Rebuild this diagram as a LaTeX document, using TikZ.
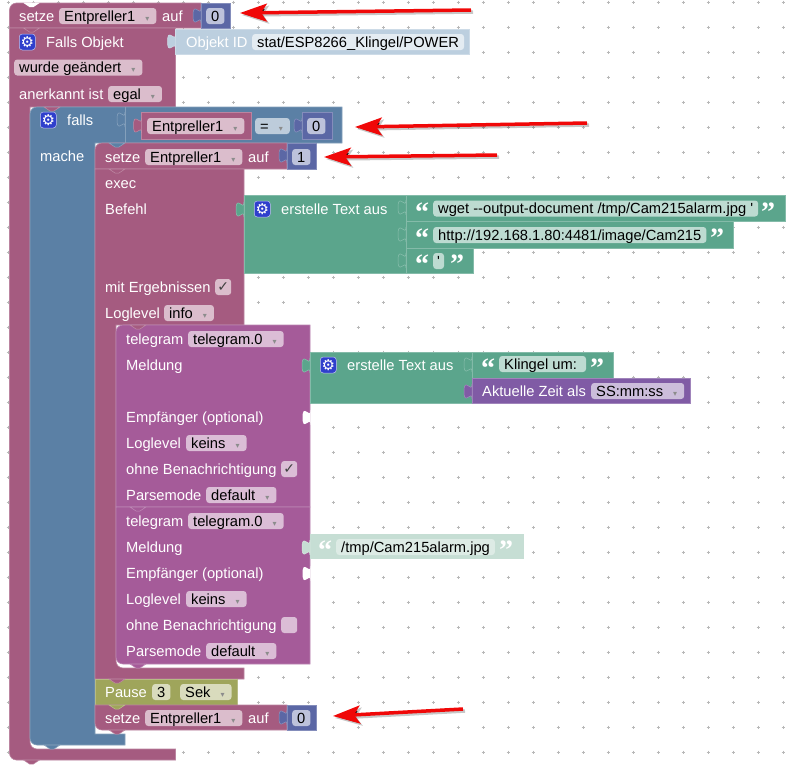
\documentclass[tikz,border=0pt]{standalone}
\usepackage{fontspec}
\usetikzlibrary{arrows.meta}
\setmainfont{Liberation Sans}[Ligatures=TeXOff]
\newfontfamily\symfont{DejaVu Sans}
\newfontfamily\quotefont{Liberation Serif}
\definecolor{setcol}{HTML}{A55B80}
\definecolor{logiccol}{HTML}{5B80A5}
\definecolor{mathcol}{HTML}{5B67A5}
\definecolor{textcol}{HTML}{5BA58C}
\definecolor{tgcol}{HTML}{A55B99}
\definecolor{timecol}{HTML}{805BA5}
\definecolor{pausecol}{HTML}{9FA55B}
\definecolor{idcol}{HTML}{BCCFDF}
\definecolor{palecol}{HTML}{C6DED4}
\definecolor{gearcol}{HTML}{2F3FCC}
\definecolor{arrowcol}{HTML}{F00808}
\newcommand{\dd}{\hbox to 16pt{\hfil\textcolor{black!45}{\symfont\fontsize{8}{8}\selectfont ▾}\hspace{2pt}}}
\newcommand{\valtab}[3]{\fill[#3,shift={(#1,#2)},draw=#3!70!white,line width=.5pt] (0,0) .. controls (0,10) and (-8,-8) .. (-8,7.5) .. controls (-8,23) and (0,5) .. (0,15) -- cycle;}
\newcommand{\notchbot}[3]{\fill[#3,draw=#3!70!white,line width=.5pt] (#1+14,#2) -- (#1+20,#2+4) -- (#1+24,#2+4) -- (#1+30,#2) -- cycle;}
\begin{document}
\begin{tikzpicture}[x=1pt, y=-1pt,
    every node/.append style={font=\fontsize{14.7}{16}\selectfont},
    griddot/.style={draw=black!28, line width=.5pt},
    blk/.style={fill=#1, draw=#1!75!white, line width=.6pt},
    lbl/.style={anchor=west, text=white, inner sep=0pt, text height=12pt, text depth=2pt},
    fld/.style={anchor=west, fill=#1!40!white, text=black, rounded corners=3pt, inner xsep=5pt, inner ysep=1pt, text height=12pt, text depth=2pt},
    fldchk/.style={anchor=west, fill=#1!40!white, rounded corners=3pt, text=black!75, inner sep=0pt, minimum size=16pt, font=\symfont\fontsize{14}{14}\selectfont},
    gearbox/.style={anchor=west, fill=gearcol, draw=white!70!gearcol, line width=.5pt, rounded corners=3pt, text=white, inner sep=0pt, minimum size=16pt, font=\symfont\fontsize{15}{15}\selectfont},
    quo/.style={text=white, inner sep=0pt, yshift=-3.5pt, font=\quotefont\bfseries\fontsize{28}{28}\selectfont},
    redarrow/.style={draw=arrowcol, line width=3.5pt, -{Stealth[length=27pt, width=18pt, inset=6pt]},
        preaction={draw=black, draw opacity=.22, line width=3.5pt, transform canvas={shift={(2pt,-2pt)}}}}]
    \path[use as bounding box, fill=white] (0,0) rectangle (797,772);
    \foreach \xd in {8,33,...,783}
      \foreach \yd in {2,27,...,752}
        \draw[griddot] (\xd-1.5,\yd) -- (\xd+1.5,\yd) (\xd,\yd-1.5) -- (\xd,\yd+1.5);

    % top row
    \draw[blk=setcol] (9.5,28) [rounded corners=7pt] -- (9.5,3) [sharp corners] -- (201,3) -- (201,28) -- cycle;
    \fill[white] (23.5,2.5) -- (23.5,3) -- (29.5,7) -- (33.5,7) -- (39.5,3) -- (39.5,2.5) -- cycle;
    \draw[blk=mathcol] (201,3) rectangle (230,28);
    \valtab{201}{8}{mathcol}
    \node[lbl] (setzeA) at (19,16) {setze};
    \node[fld=setcol] (varA) at (59,16) {Entpreller1\dd};
    \node[lbl] (aufA) at (162,16) {auf};
    \node[fld=mathcol] (zeroA) at (206,16) {0};

    % Falls Objekt
    \draw[blk=setcol] (9.5,28) -- (175.5,28) -- (175.5,107) -- (30,107) [rounded corners=7pt] -- (30,749) [sharp corners] -- (175.5,749) -- (175.5,760) [rounded corners=7pt] -- (9.5,760) [sharp corners] -- cycle;
    \notchbot{9.5}{28}{setcol}
    \notchbot{9.5}{760}{setcol}
    \draw[blk=idcol] (175.5,29) rectangle (469,54);
    \valtab{175.5}{34}{idcol}
    \node[gearbox] (gearA) at (19,42) {⚙};
    \node[lbl] (fallsObj) at (46,42) {Falls Objekt};
    \node[lbl] (objId) at (186,42) {Objekt ID};
    \node[fld=idcol] (objVal) at (252,42) {stat/ESP8266\_Klingel/POWER};
    \node[fld=setcol] (changed) at (14,67.5) {wurde geändert\dd};
    \node[lbl] (acked) at (19,94) {anerkannt ist};
    \node[fld=setcol] (egal) at (108,94) {egal\dd};

    % falls
    \draw[blk=logiccol] (30,143) [rounded corners=7pt] -- (30,107) [sharp corners] -- (342,107) -- (342,143) -- (95,143) -- (95,734) -- (125,734) -- (125,745) [rounded corners=7pt] -- (30,745) [sharp corners] -- cycle;
    \draw[logiccol!75!white, line width=.6pt] (125,107) -- (125,143);
    \notchbot{30}{107}{setcol}
    \notchbot{30}{745}{logiccol}
    \valtab{125}{112}{logiccol}
    \node[gearbox] (gearB) at (40,120) {⚙};
    \node[lbl] (falls) at (67,120) {falls};
    \node[lbl] (mache) at (40,156) {mache};
    \draw[blk=setcol] (141.5,112) rectangle (251,139);
    \valtab{141.5}{118}{setcol}
    \node[fld=setcol] (varB) at (147,126) {Entpreller1\dd};
    \node[fld=logiccol] (eqop) at (255,126) {=\dd};
    \draw[blk=mathcol] (302,112) rectangle (332,139);
    \valtab{302}{118}{mathcol}
    \node[fld=mathcol] (zeroB) at (307,126) {0};

    % setze 1
    \draw[blk=setcol] (95,169) [rounded corners=7pt] -- (95,143) [sharp corners] -- (287,143) -- (287,169) -- cycle;
    \notchbot{95}{143}{logiccol}
    \draw[blk=mathcol] (287,143) rectangle (316,169);
    \valtab{287}{148}{mathcol}
    \node[lbl] (setzeB) at (105,157) {setze};
    \node[fld=setcol] (varC) at (145,157) {Entpreller1\dd};
    \node[lbl] (aufB) at (248,157) {auf};
    \node[fld=mathcol] (oneB) at (292,157) {1};

    % exec
    \draw[blk=setcol] (95,169) -- (244,169) -- (244,325) -- (116,325) [rounded corners=7pt] -- (116,668) [sharp corners] -- (244,668) -- (244,679) -- (95,679) -- cycle;
    \notchbot{95}{169}{setcol}
    \node[lbl] (exec) at (105,183) {exec};
    \node[lbl] (befehl) at (105,209) {Befehl};
    \node[lbl] (results) at (105,287) {mit Ergebnissen};
    \node[fldchk=setcol] (chkA) at (215,287) {✓};
    \node[lbl] (loglevel) at (105,313) {Loglevel};
    \node[fld=setcol] (info) at (164,313) {info\dd};

    % erstelle Text aus
    \draw[blk=textcol] (244,195) rectangle (406,273);
    \valtab{244}{202}{textcol}
    \node[gearbox] (gearC) at (254,209) {⚙};
    \node[lbl] (makeA) at (281,209) {erstelle Text aus};
    \draw[blk=textcol] (406,195) rectangle (785,221);
    \draw[blk=textcol] (406,221) rectangle (733,248);
    \draw[blk=textcol] (406,248) rectangle (473,273);
    \valtab{406}{200}{textcol}
    \valtab{406}{227}{textcol}
    \valtab{406}{253}{textcol}
    \node[quo] (openA) at (422,209) {“};
    \node[fld=textcol] (wget) at (433,208.5) {wget --output-document /tmp/Cam215alarm.jpg '};
    \node[quo] (closeA) at (768,209) {”};
    \node[quo] (openB) at (422,235) {“};
    \node[fld=textcol] (http) at (433,235) {http://192.168.1.80:4481/image/Cam215};
    \node[quo] (closeB) at (717,235) {”};
    \node[quo] (openC) at (422,261) {“};
    \node[fld=textcol, inner xsep=4pt] (tick) at (433,261) {'};
    \node[quo] (closeC) at (457,261) {”};

    % telegram 1
    \draw[blk=tgcol] (116,507) [rounded corners=7pt] -- (116,325) [sharp corners] -- (310,325) -- (310,507) -- cycle;
    \notchbot{116}{325}{setcol}
    \node[lbl] (tgA) at (126,339) {telegram};
    \node[fld=tgcol] (tgValA) at (188,339) {telegram.0\dd};
    \node[lbl] (msgA) at (126,365) {Meldung};
    \node[lbl] (recvA) at (126,417) {Empfänger (optional)};
    \node[lbl] (logA) at (126,443) {Loglevel};
    \node[fld=tgcol] (keinsA) at (186,443) {keins\dd};
    \node[lbl] (silentA) at (126,469) {ohne Benachrichtigung};
    \node[fldchk=tgcol] (chkB) at (281,469) {✓};
    \node[lbl] (parseA) at (126,495) {Parsemode};
    \node[fld=tgcol] (defaultA) at (206,495) {default\dd};
    \fill[white,shift={(310.5,410)}] (0,0) .. controls (0,10) and (-8,-8) .. (-8,7.5) .. controls (-8,23) and (0,5) .. (0,15) -- cycle;

    % telegram 2
    \draw[blk=tgcol] (116,507) -- (310,507) -- (310,664) [rounded corners=7pt] -- (116,664) [sharp corners] -- cycle;
    \notchbot{116}{507}{tgcol}
    \notchbot{116}{664}{tgcol}
    \node[lbl] (tgB) at (126,521) {telegram};
    \node[fld=tgcol] (tgValB) at (188,521) {telegram.0\dd};
    \node[lbl] (msgB) at (126,547) {Meldung};
    \node[lbl] (recvB) at (126,573) {Empfänger (optional)};
    \node[lbl] (logB) at (126,599) {Loglevel};
    \node[fld=tgcol] (keinsB) at (186,599) {keins\dd};
    \node[lbl] (silentB) at (126,625) {ohne Benachrichtigung};
    \node[fldchk=tgcol] (chkC) at (281,625) {};
    \node[lbl] (parseB) at (126,651) {Parsemode};
    \node[fld=tgcol] (defaultB) at (206,651) {default\dd};
    \fill[white,shift={(310.5,566)}] (0,0) .. controls (0,10) and (-8,-8) .. (-8,7.5) .. controls (-8,23) and (0,5) .. (0,15) -- cycle;

    % erstelle Text aus, second one
    \draw[blk=textcol] (310,352) rectangle (472,403);
    \valtab{310}{358}{textcol}
    \node[gearbox] (gearD) at (320,365) {⚙};
    \node[lbl] (makeB) at (347,365) {erstelle Text aus};
    \draw[blk=textcol] (472,352) rectangle (613,378);
    \valtab{472}{357}{textcol}
    \node[quo] (openD) at (488,365) {“};
    \node[fld=textcol] (klingel) at (499,364) {Klingel um:\ \ };
    \node[quo] (closeD) at (597,365) {”};
    \draw[blk=timecol] (472,378) rectangle (690,403);
    \valtab{472}{384}{timecol}
    \node[lbl] (nowLbl) at (482,391) {Aktuelle Zeit als};
    \node[fld=timecol] (nowFmt) at (591,391) {SS:mm:ss\dd};

    % pale text block
    \fill[palecol] (310,534) rectangle (524,559);
    \valtab{310}{540}{palecol}
    \node[quo] (openE) at (325,547) {“};
    \node[anchor=west, fill=palecol!60!white, rounded corners=3pt, text=black, inner xsep=5pt, inner ysep=1pt, text height=12pt, text depth=2pt] (jpg) at (336,547) {/tmp/Cam215alarm.jpg};
    \node[quo] (closeE) at (506,547) {”};

    % Pause and last setze
    \draw[blk=pausecol] (95,679) rectangle (237,705);
    \notchbot{95}{679}{setcol}
    \node[lbl] (pause) at (105,692) {Pause};
    \node[fld=pausecol] (three) at (152,692) {3};
    \node[fld=pausecol] (sek) at (180,692) {Sek\dd};
    \draw[blk=setcol] (95,705) -- (287,705) -- (287,730) [rounded corners=7pt] -- (95,730) [sharp corners] -- cycle;
    \notchbot{95}{705}{pausecol}
    \notchbot{95}{730}{setcol}
    \draw[blk=mathcol] (287,705) rectangle (316,730);
    \valtab{287}{710}{mathcol}
    \node[lbl] (setzeC) at (105,718) {setze};
    \node[fld=setcol] (varD) at (145,718) {Entpreller1\dd};
    \node[lbl] (aufC) at (248,718) {auf};
    \node[fld=mathcol] (zeroC) at (292,718) {0};

    % red arrows
    \coordinate (tailA) at (471,10);
    \coordinate (tipA) at (240,13);
    \coordinate (tailB) at (587,123);
    \coordinate (tipB) at (355,127);
    \coordinate (tailC) at (497,155);
    \coordinate (tipC) at (324,157);
    \coordinate (tailD) at (463,709);
    \coordinate (tipD) at (333,716);
    \draw[redarrow] (tailA) -- (tipA);
    \draw[redarrow] (tailB) -- (tipB);
    \draw[redarrow] (tailC) -- (tipC);
    \draw[redarrow] (tailD) -- (tipD);
\end{tikzpicture}
\end{document}
